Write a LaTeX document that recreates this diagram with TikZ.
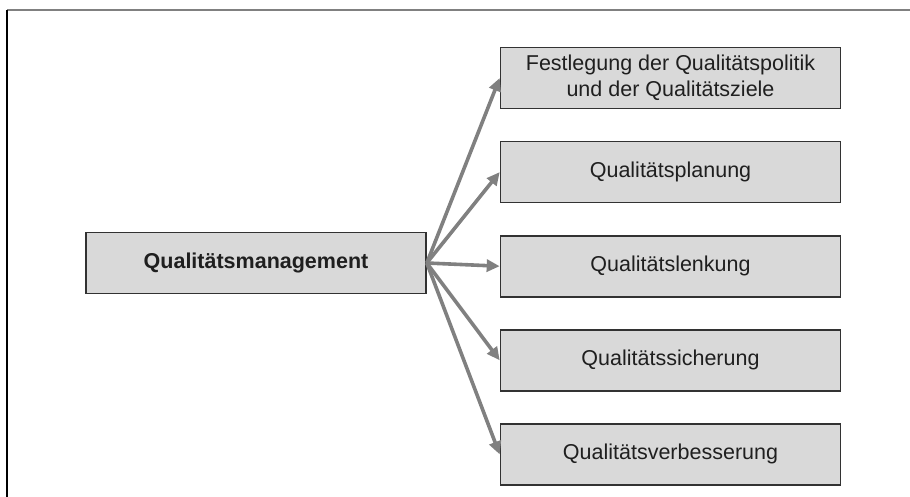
\documentclass[tikz,border=0pt]{standalone}
\usepackage{fontspec}
\setmainfont{Liberation Sans}
\usetikzlibrary{positioning,arrows.meta}
\definecolor{boxfill}{RGB}{217,217,217}
\definecolor{boxline}{RGB}{50,50,50}
\definecolor{arrowgray}{RGB}{128,128,128}
\tikzset{
  qbox/.style={draw=boxline, line width=1.6pt, fill=boxfill, minimum width=340pt,
    minimum height=61pt, align=center, inner sep=0pt, text=black!88,
    font=\fontsize{21.5}{26}\selectfont},
  qarrow/.style={draw=arrowgray, line width=3.6pt, -{Triangle[length=13pt,width=12pt]}}
}
\begin{document}
\begin{tikzpicture}[x=1pt,y=-1pt]
\useasboundingbox (0,0) rectangle (910,497);
\draw[line width=1.5pt, color=gray] (7,10) -- (910,10); % frame top
\draw[line width=1.5pt, color=black] (7,10) -- (7,497); % frame left
\node[qbox, font=\fontsize{21.5}{26}\selectfont\bfseries] (qm) at (256,263) {Qualitätsmanagement};
\node[qbox] (ziele) at (670.5,78) {Festlegung der Qualitätspolitik\\und der Qualitätsziele};
\node[qbox, below=31.5pt of ziele] (planung) {Qualitätsplanung};
\node[qbox, below=31.5pt of planung] (lenkung) {Qualitätslenkung};
\node[qbox, below=31.5pt of lenkung] (sicherung) {Qualitätssicherung};
\node[qbox, below=31.5pt of sicherung] (verbesserung) {Qualitätsverbesserung};
\foreach \t in {ziele,planung,lenkung,sicherung,verbesserung} % edit here for the arrows
\draw[qarrow] (qm.east) -- (\t.west);
\end{tikzpicture}
\end{document}
